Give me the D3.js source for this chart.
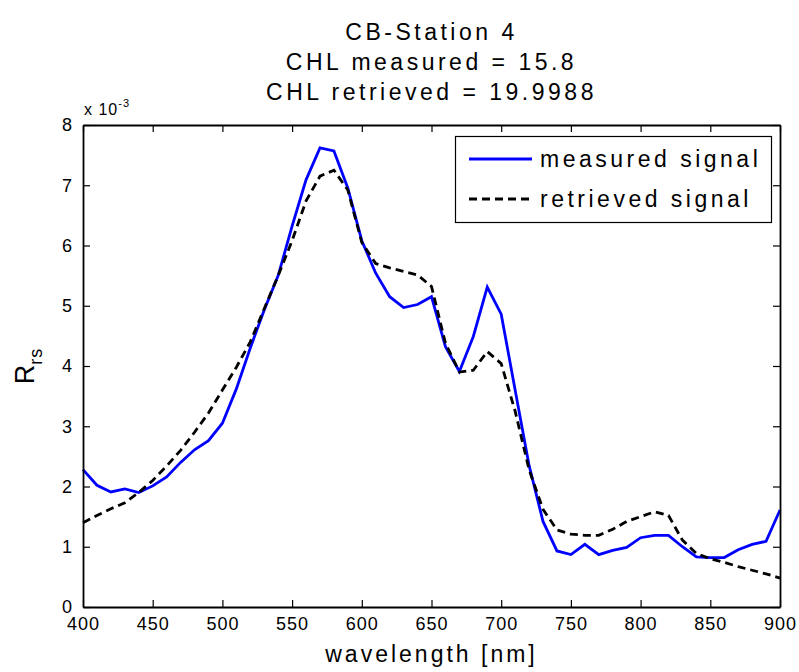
<!DOCTYPE html>
<html>
<head>
<meta charset="utf-8">
<script src="https://cdn.jsdelivr.net/npm/d3@7"></script>
<style>
  body { margin: 0; background: #fff; }
  svg text { font-family: "Liberation Sans", Arial, sans-serif; fill: #000; }
</style>
</head>
<body>
<svg id="chart" width="799" height="672"></svg>
<script>
// wavelength in nm
var wavelengths = [400, 410, 420, 430, 440, 450, 460, 470, 480, 490,
  500, 510, 520, 530, 540, 550, 560, 570, 580, 590,
  600, 610, 620, 630, 640, 650, 660, 670, 680, 690,
  700, 710, 720, 730, 740, 750, 760, 770, 780, 790,
  800, 810, 820, 830, 840, 850, 860, 870, 880, 890, 900];

// Rrs values, x 10^-3
var measured = [2.28, 2.02, 1.91, 1.96, 1.90, 2.01, 2.16, 2.40, 2.61, 2.76,
  3.05, 3.62, 4.30, 4.93, 5.50, 6.32, 7.09, 7.62, 7.57, 6.95,
  6.08, 5.54, 5.15, 4.97, 5.02, 5.15, 4.32, 3.91, 4.49, 5.31,
  4.86, 3.60, 2.35, 1.42, 0.93, 0.87, 1.04, 0.87, 0.94, 0.99,
  1.15, 1.19, 1.19, 1.00, 0.83, 0.82, 0.82, 0.95, 1.04, 1.09, 1.61];

var retrieved = [1.40, 1.52, 1.63, 1.73, 1.90, 2.10, 2.34, 2.60, 2.90, 3.22,
  3.60, 3.98, 4.40, 4.95, 5.50, 6.08, 6.74, 7.15, 7.25, 6.92,
  6.05, 5.70, 5.63, 5.57, 5.51, 5.32, 4.38, 3.90, 3.93, 4.24,
  4.04, 3.25, 2.28, 1.62, 1.28, 1.21, 1.19, 1.19, 1.29, 1.42,
  1.50, 1.58, 1.52, 1.11, 0.89, 0.80, 0.74, 0.67, 0.61, 0.55, 0.48];

var xTicks = [400, 450, 500, 550, 600, 650, 700, 750, 800, 850, 900];
var yTicks = [0, 1, 2, 3, 4, 5, 6, 7, 8];
var titleLines = ["CB-Station 4", "CHL measured = 15.8", "CHL retrieved = 19.9988"];
var legendLabels = ["measured signal", "retrieved signal"];

var svg = d3.select("#chart"),
  plotLeft = 83, plotRight = 780, plotTop = 125, plotBottom = 607;

var x = d3.scaleLinear().domain([400, 900]).range([plotLeft, plotRight]);
var y = d3.scaleLinear().domain([0, 8]).range([plotBottom, plotTop]);

var series = [
  { name: legendLabels[0], values: measured, color: "#0000ff", dash: null },
  { name: legendLabels[1], values: retrieved, color: "#000000", dash: "8,5" }
];

var line = d3.line()
  .x(function(d, i) { return x(wavelengths[i]); })
  .y(function(d) { return y(d); });

svg.append("g")
  .selectAll("path")
  .data(series)
  .enter().append("path")
  .attr("fill", "none")
  .attr("stroke", function(d) { return d.color; })
  .attr("stroke-width", 2.8)
  .attr("stroke-dasharray", function(d) { return d.dash; })
  .attr("d", function(d) { return line(d.values); });

// axes, MATLAB style ticks pointing inward
svg.append("g")
  .attr("transform", "translate(0," + plotBottom + ")")
  .call(d3.axisBottom(x).tickValues(xTicks).tickSize(-7).tickSizeOuter(0).tickPadding(10));
svg.append("g")
  .attr("transform", "translate(" + plotLeft + ",0)")
  .call(d3.axisLeft(y).tickValues(yTicks).tickSize(-7).tickSizeOuter(0).tickPadding(10));
svg.append("g")
  .attr("transform", "translate(0," + plotTop + ")")
  .call(d3.axisTop(x).tickValues(xTicks).tickSize(-7).tickSizeOuter(0).tickFormat(""));
svg.append("g")
  .attr("transform", "translate(" + plotRight + ",0)")
  .call(d3.axisRight(y).tickValues(yTicks).tickSize(-7).tickSizeOuter(0).tickFormat(""));

svg.selectAll(".domain").attr("stroke", "#000").attr("stroke-width", 1.8);
svg.selectAll(".tick line").attr("stroke", "#000").attr("stroke-width", 1.2);
svg.selectAll(".tick text")
  .style("font-size", "18px")
  .style("font-family", "'Liberation Sans', Arial, sans-serif")
  .style("letter-spacing", "1px");

// title
svg.append("g")
  .selectAll("text")
  .data(titleLines)
  .enter().append("text")
  .attr("x", (plotLeft + plotRight) / 2)
  .attr("y", function(d, i) { return 40 + i * 30; })
  .attr("text-anchor", "middle")
  .style("font-size", "23px")
  .style("letter-spacing", "3.5px")
  .text(function(d) { return d; });

// exponent label
var expo = svg.append("text")
  .attr("x", 84)
  .attr("y", 115)
  .style("font-size", "16px")
  .style("letter-spacing", "1px");
expo.append("tspan").text("x 10");
expo.append("tspan").attr("dy", -8).style("font-size", "11px").text("-3");

// axis labels
svg.append("text")
  .attr("x", (plotLeft + plotRight) / 2)
  .attr("y", 662)
  .attr("text-anchor", "middle")
  .style("font-size", "23px")
  .style("letter-spacing", "3px")
  .text("wavelength [nm]");

var ylab = svg.append("text")
  .attr("transform", "translate(34,366) rotate(-90)")
  .attr("text-anchor", "middle")
  .style("font-size", "27px");
ylab.append("tspan").text("R");
ylab.append("tspan").attr("dy", 8).style("font-size", "18px").style("letter-spacing", "1px").text("rs");

// legend
var legend = svg.append("g");
legend.append("rect")
  .attr("x", 455.5).attr("y", 136.5)
  .attr("width", 316).attr("height", 86)
  .attr("fill", "#fff")
  .attr("stroke", "#000")
  .attr("stroke-width", 1.2);

var item = legend.selectAll("g.item")
  .data(series)
  .enter().append("g")
  .attr("class", "item")
  .attr("transform", function(d, i) { return "translate(0," + (159 + i * 40) + ")"; });

item.append("line")
  .attr("x1", 469).attr("x2", 532)
  .attr("stroke", function(d) { return d.color; })
  .attr("stroke-width", 2.8)
  .attr("stroke-dasharray", function(d) { return d.dash; });

item.append("text")
  .attr("x", 540)
  .attr("y", 8)
  .style("font-size", "23px")
  .style("letter-spacing", "3.5px")
  .text(function(d) { return d.name; });
</script>
</body>
</html>
